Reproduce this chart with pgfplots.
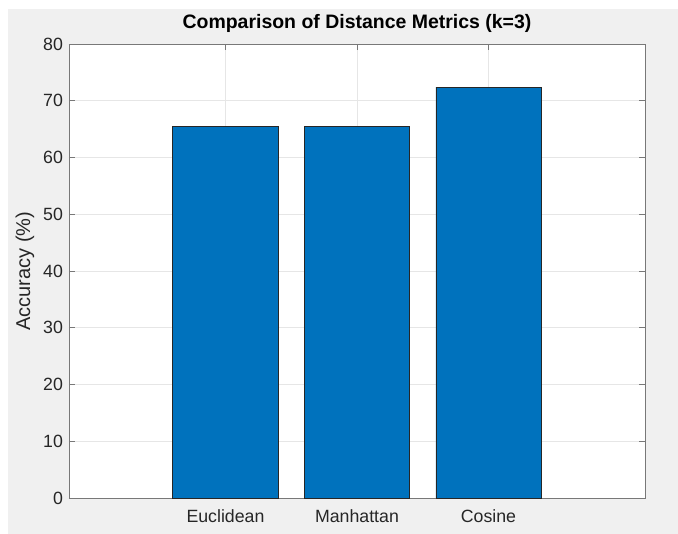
\documentclass[border=0pt]{standalone}
\usepackage{pgfplots}
\pgfplotsset{compat=1.18}
\usepackage{fontspec}
\setmainfont{Liberation Sans}
\definecolor{mbar}{RGB}{0,114,189}
\definecolor{mbg}{RGB}{240,240,240}
\definecolor{mtxt}{RGB}{38,38,38}
\definecolor{maxis}{RGB}{120,120,120}
\definecolor{mgrid}{RGB}{230,230,230}
\begin{document}
\begin{tikzpicture}[x=1pt,y=1pt]
\fill[white] (-51.75,-26.25) rectangle (456.75,373.5);
\fill[mbg] (-45.75,-30) rectangle (460,366.75);
\begin{axis}[
  at={(0,0)}, anchor=south west,
  scale only axis,
  width=432pt, height=340.5pt,
  axis background/.style={fill=white},
  xmin=-0.19, xmax=4.19,
  ymin=0, ymax=80,
  xtick={1,2,3},
  xticklabels={Euclidean,Manhattan,Cosine},
  ytick={0,10,...,80},
  tick pos=both,
  tick align=inside,
  major tick length=4.3pt,
  tick style={maxis, line width=0.5pt},
  axis line style={maxis, line width=0.7pt},
  grid=major,
  major grid style={mgrid, line width=0.6pt},
  ticklabel style={font=\fontsize{13.3}{15}\selectfont, text=mtxt},
  /pgf/number format/assume math mode=true,
  xticklabel style={yshift=-5pt},
  yticklabel style={xshift=-1pt},
  title={\textbf{Comparison of Distance Metrics (k=3)}},
  title style={font=\fontsize{14.6}{17}\selectfont, text=black, at={(0.5,1)}, anchor=base, yshift=6pt},
  ylabel={Accuracy (\%)},
  ylabel style={font=\fontsize{15}{18}\selectfont, text=mtxt, at={(0,0.5)}, anchor=center, yshift=33pt},
]
\addplot[ybar, bar width=0.8, fill=mbar, draw=black!85, line width=0.6pt] coordinates {(1,65.5) (2,65.5) (3,72.4)};
\end{axis}
\pgfresetboundingbox
\useasboundingbox (-51.75,-26.25) rectangle (456.75,373.5);
\end{tikzpicture}
\end{document}
